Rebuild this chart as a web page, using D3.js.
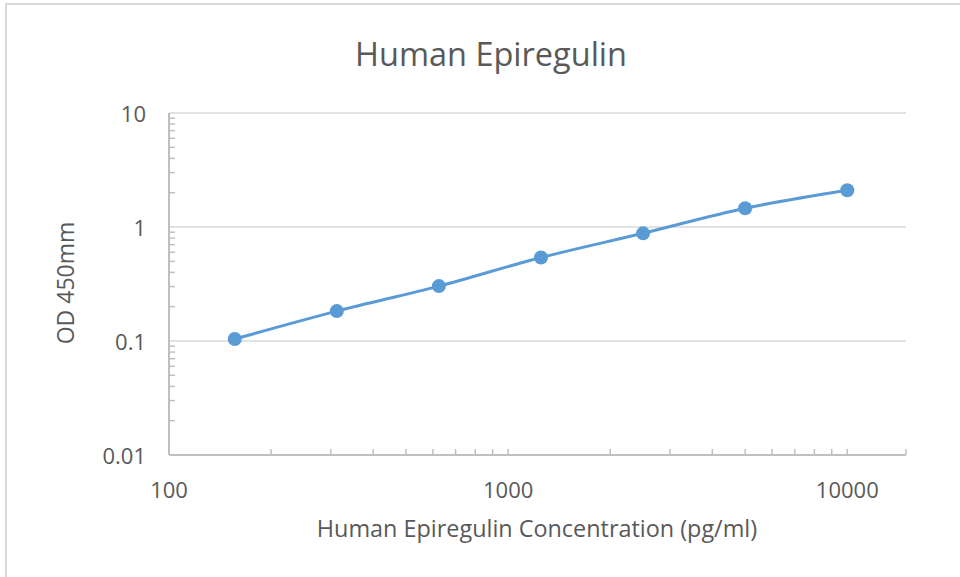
<!DOCTYPE html>
<html>
<head>
<meta charset="utf-8">
<script src="https://cdn.jsdelivr.net/npm/d3@7"></script>
<style>
	body{margin:0;background:#fff;}
	svg text{font-family:"Open Sans", sans-serif;fill:#595959;}
</style>
</head>
<body>
<svg id="chart" width="960" height="577"></svg>
<script>
const concentrations = [156.25, 312.5, 625, 1250, 2500, 5000, 10000];
const odValues = [0.104, 0.183, 0.303, 0.54, 0.88, 1.46, 2.1];
const xTickLabels = [100, 1000, 10000];
const yTickLabels = [0.01, 0.1, 1, 10];

const margin = {top: 113, right: 54, bottom: 122, left: 169};
const W = 960, H = 577;
const width = W - margin.left - margin.right;
const height = H - margin.top - margin.bottom;

var svg = d3.select('#chart');

//frame
svg.append('rect')
	.attr('x', 6).attr('y', 4)
	.attr('width', W + 20).attr('height', H + 20)
	.attr('fill', 'none').attr('stroke', '#d9d9d9').attr('stroke-width', 2);

svg.append('text')
	.attr('x', 491).attr('y', 66)
	.attr('text-anchor', 'middle')
	.style('font-size', '32.5px')
	.text('Human Epiregulin');

var x = d3.scaleLog().domain([100, 14900]).range([0, width]);
var y = d3.scaleLog().domain([0.01, 10]).range([height, 0]);

var g = svg.append('g').attr('transform', 'translate(' + margin.left + ',' + margin.top + ')');

//gridlines
g.selectAll('line.grid').data(yTickLabels.slice(1))
	.enter().append('line').attr('class', 'grid')
	.attr('x1', 0).attr('x2', width)
	.attr('y1', function(d){ return y(d); }).attr('y2', function(d){ return y(d); })
	.attr('stroke', '#d9d9d9').attr('stroke-width', 1.5);

//minor ticks
var yMinor = [];
[0.01, 0.1, 1].forEach(function(b){ for(var k=2;k<=9;k++) yMinor.push(b*k); });
var xMinor = [];
[100, 1000].forEach(function(b){ for(var k=2;k<=9;k++) xMinor.push(b*k); });

g.selectAll('line.ymin').data(yMinor)
	.enter().append('line').attr('class', 'ymin')
	.attr('x1', 0).attr('x2', 6)
	.attr('y1', function(d){ return y(d); }).attr('y2', function(d){ return y(d); })
	.attr('stroke', '#bfbfbf').attr('stroke-width', 1.5);

g.selectAll('line.xmin').data(xMinor.concat(xTickLabels.slice(1)))
	.enter().append('line').attr('class', 'xmin')
	.attr('y1', height).attr('y2', height - 6)
	.attr('x1', function(d){ return x(d); }).attr('x2', function(d){ return x(d); })
	.attr('stroke', '#bfbfbf').attr('stroke-width', 1.5);

g.append('line')
	.attr('x1', width).attr('x2', width).attr('y1', height).attr('y2', height - 6)
	.attr('stroke', '#bfbfbf').attr('stroke-width', 1.5);

//axis lines
g.append('line').attr('x1', 0).attr('x2', 0).attr('y1', 0).attr('y2', height)
	.attr('stroke', '#bfbfbf').attr('stroke-width', 2);
g.append('line').attr('x1', 0).attr('x2', width).attr('y1', height).attr('y2', height)
	.attr('stroke', '#bfbfbf').attr('stroke-width', 2);

//tick labels
g.selectAll('text.ylab').data(yTickLabels)
	.enter().append('text').attr('class', 'ylab')
	.attr('x', -23).attr('y', function(d){ return y(d); })
	.attr('dy', '0.4em')
	.attr('text-anchor', 'end')
	.style('font-size', '22px')
	.text(function(d){ return d; });

g.selectAll('text.xlab').data(xTickLabels)
	.enter().append('text').attr('class', 'xlab')
	.attr('x', function(d){ return x(d); }).attr('y', height + 43)
	.attr('text-anchor', 'middle')
	.style('font-size', '22px')
	.text(function(d){ return d; });

//axis titles
svg.append('text')
	.attr('x', 537).attr('y', 537)
	.attr('text-anchor', 'middle')
	.style('font-size', '23.4px')
	.text('Human Epiregulin Concentration (pg/ml)');

svg.append('text')
	.attr('transform', 'translate(74,283) rotate(-90)')
	.attr('text-anchor', 'middle')
	.style('font-size', '23px')
	.text('OD 450mm');

//series
var pts = concentrations.map(function(c, i){ return [x(c), y(odValues[i])]; });
var line = d3.line().curve(d3.curveCatmullRom.alpha(0.5));
g.append('path').attr('d', line(pts))
	.attr('fill', 'none').attr('stroke', '#5b9bd5').attr('stroke-width', 3);

g.selectAll('circle.pt').data(pts)
	.enter().append('circle').attr('class', 'pt')
	.attr('cx', function(d){ return d[0]; }).attr('cy', function(d){ return d[1]; })
	.attr('r', 7)
	.attr('fill', '#5b9bd5');
</script>
</body>
</html>
